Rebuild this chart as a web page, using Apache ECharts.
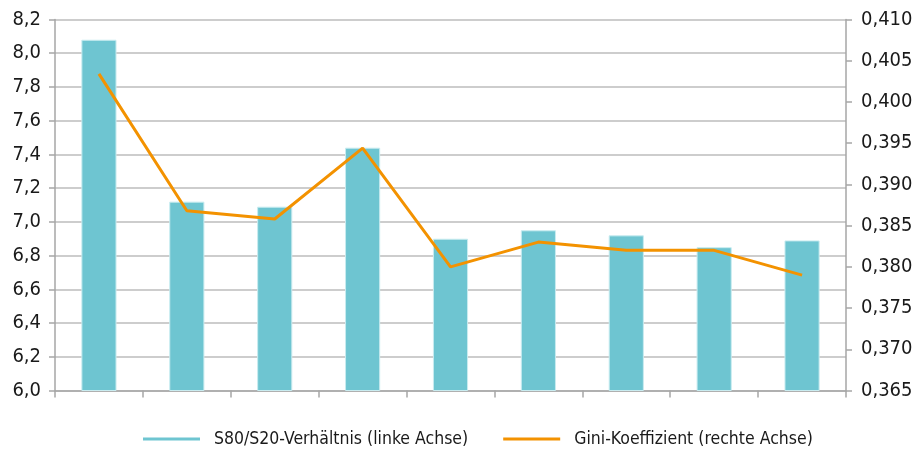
<!DOCTYPE html>
<html>
<head>
<meta charset="utf-8">
<script src="https://cdn.jsdelivr.net/npm/echarts@6/dist/echarts.min.js"></script>
<style>
    html, body { margin: 0; padding: 0; background: #fff; }
    #chart { width: 920px; height: 457px; }
</style>
</head>
<body>
<div id="chart"></div>
<script>
    // Kategorien (keine Beschriftung in der Vorlage)
    var categories = ['1', '2', '3', '4', '5', '6', '7', '8', '9'];
    // S80/S20-Verhältnis (linke Achse)
    var s80s20 = [8.08, 7.12, 7.09, 7.44, 6.90, 6.95, 6.92, 6.85, 6.89];
    // Gini-Koeffizient (rechte Achse)
    var gini = [0.4034, 0.3868, 0.3858, 0.3944, 0.3800, 0.3830, 0.3820, 0.3820, 0.3790];

    var font = '"DejaVu Sans Condensed", "Liberation Sans Narrow", Roboto, sans-serif';
    var axisGrey = '#a6a6a6';

    var myChart = echarts.init(document.getElementById('chart'));
    myChart.setOption({
        animation: false,
        textStyle: { fontFamily: font },
        grid: { left: 55, right: 74, top: 19.5, bottom: 66.5, containLabel: false },
        legend: {
            top: 425,
            left: 138,
            itemWidth: 57,
            itemHeight: 3,
            itemGap: 35,
            textStyle: { fontSize: 17.5, color: '#1a1a1a', fontFamily: font, padding: [0, 0, 0, 9] },
            data: [
                { name: 'S80/S20-Verhältnis (linke Achse)', icon: 'rect', itemStyle: { color: '#6ec5d1', borderWidth: 0 } },
                { name: 'Gini-Koeffizient (rechte Achse)', icon: 'rect', itemStyle: { color: '#f39200', borderWidth: 0 } }
            ]
        },
        xAxis: {
            type: 'category',
            data: categories,
            boundaryGap: true,
            axisLine: { lineStyle: { color: axisGrey, width: 1.5 } },
            axisTick: { show: true, length: 7, lineStyle: { color: axisGrey, width: 1.5 } },
            axisLabel: { show: false }
        },
        yAxis: [
            {
                type: 'value',
                min: 6,
                max: 8.2,
                interval: 0.2,
                position: 'left',
                axisLine: { show: true, lineStyle: { color: axisGrey, width: 1.5 } },
                axisTick: { show: true, length: 6, lineStyle: { color: axisGrey, width: 1.5 } },
                axisLabel: {
                    fontSize: 20,
                    color: '#1a1a1a',
                    margin: 14,
                    formatter: function (v) { return v.toFixed(1).replace('.', ','); }
                },
                splitLine: { lineStyle: { color: '#bdbdbd', width: 1.5 } }
            },
            {
                type: 'value',
                min: 0.365,
                max: 0.410,
                interval: 0.005,
                position: 'right',
                axisLine: { show: true, lineStyle: { color: axisGrey, width: 1.5 } },
                axisTick: { show: true, length: 6, lineStyle: { color: axisGrey, width: 1.5 } },
                axisLabel: {
                    fontSize: 20,
                    color: '#1a1a1a',
                    margin: 15,
                    formatter: function (v) { return v.toFixed(3).replace('.', ','); }
                },
                splitLine: { show: false }
            }
        ],
        series: [
            {
                name: 'S80/S20-Verhältnis (linke Achse)',
                type: 'bar',
                yAxisIndex: 0,
                barWidth: '40%',
                itemStyle: { color: '#6ec5d1', borderColor: '#c9ecf0', borderWidth: 1 },
                data: s80s20
            },
            {
                name: 'Gini-Koeffizient (rechte Achse)',
                type: 'line',
                yAxisIndex: 1,
                symbol: 'none',
                lineStyle: { color: '#f39200', width: 3 },
                itemStyle: { color: '#f39200' },
                data: gini
            }
        ]
    });
</script>
</body>
</html>
